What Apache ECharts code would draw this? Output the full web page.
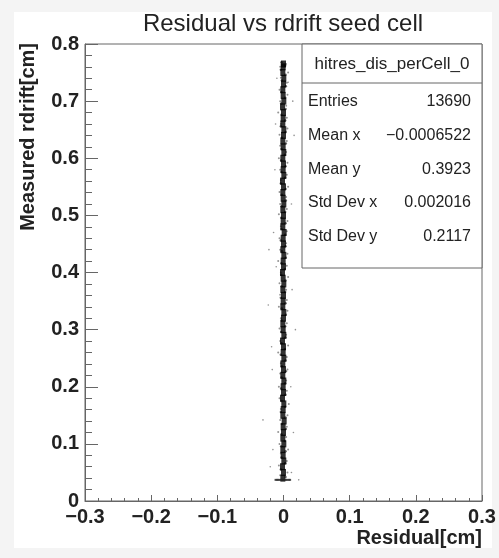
<!DOCTYPE html>
<html>
<head>
<meta charset="utf-8">
<script src="https://cdn.jsdelivr.net/npm/echarts@6/dist/echarts.min.js"></script>
<style>
  html, body { margin: 0; padding: 0; background: #f4f4f4; }
  #main { width: 499px; height: 558px; }
</style>
</head>
<body>
<div id="main"></div>
<script>
// dense core of the band (residual, rdrift)
const corePoints = [
  [-0.001,0.04],[0,0.05],[-0.0015,0.06],[0.0005,0.07],[-0.0005,0.08],[-0.001,0.09],[0.0005,0.10],[-0.001,0.11],
  [0,0.12],[-0.0005,0.13],[0.001,0.14],[-0.001,0.15],[-0.0005,0.16],[0.0005,0.17],[-0.0015,0.18],[0,0.19],
  [-0.0005,0.20],[0.0005,0.21],[-0.001,0.22],[0,0.23],[-0.001,0.24],[0.0005,0.25],[-0.0005,0.26],[0,0.27],
  [-0.0015,0.28],[0.0005,0.29],[-0.0005,0.30],[-0.001,0.31],[0,0.32],[0.0005,0.33],[-0.001,0.34],[-0.0005,0.35],
  [0,0.36],[-0.001,0.37],[0.0005,0.38],[-0.0005,0.39],[-0.0015,0.40],[0,0.41],[-0.0005,0.42],[0.0005,0.43],
  [-0.001,0.44],[0,0.45],[-0.0005,0.46],[0.001,0.47],[-0.001,0.48],[-0.0005,0.49],[0,0.50],[-0.001,0.51],
  [0.0005,0.52],[-0.0005,0.53],[-0.001,0.54],[0,0.55],[-0.0015,0.56],[0.0005,0.57],[-0.0005,0.58],[0,0.59],
  [-0.001,0.60],[0.0005,0.61],[-0.0005,0.62],[-0.001,0.63],[0,0.64],[0.0005,0.65],[-0.001,0.66],[-0.0005,0.67],
  [0,0.68],[-0.0015,0.69],[0.0005,0.70],[-0.0005,0.71],[-0.001,0.72],[0,0.73],[0.0005,0.74],[-0.001,0.75],
  [-0.0005,0.76],[0,0.765]
];
// close fuzz just outside the core
const innerHaloPoints = [
  [0.003,0.042],[-0.004,0.055],[0.0025,0.066],[-0.003,0.076],[0.003,0.087],[-0.0035,0.096],[0.002,0.105],[-0.003,0.117],
  [0.0035,0.126],[-0.0025,0.135],[0.003,0.146],[-0.004,0.156],[0.0025,0.165],[-0.003,0.175],[0.003,0.186],[-0.0035,0.197],
  [0.0025,0.206],[-0.003,0.216],[0.0035,0.227],[-0.0025,0.236],[0.003,0.246],[-0.004,0.256],[0.002,0.266],[-0.003,0.276],
  [0.003,0.286],[-0.0035,0.296],[0.0025,0.306],[-0.003,0.316],[0.0035,0.326],[-0.0025,0.337],[0.003,0.346],[-0.004,0.356],
  [0.0025,0.366],[-0.003,0.376],[0.003,0.386],[-0.0035,0.396],[0.002,0.406],[-0.003,0.416],[0.0035,0.426],[-0.0025,0.437],
  [0.003,0.446],[-0.004,0.456],[0.0025,0.466],[-0.003,0.476],[0.003,0.486],[-0.0035,0.496],[0.0025,0.506],[-0.003,0.516],
  [0.0035,0.526],[-0.0025,0.536],[0.003,0.546],[-0.004,0.556],[0.0025,0.566],[-0.003,0.576],[0.003,0.586],[-0.0035,0.596],
  [0.002,0.606],[-0.003,0.616],[0.0035,0.626],[-0.0025,0.636],[0.003,0.646],[-0.004,0.656],[0.0025,0.666],[-0.003,0.676],
  [0.003,0.686],[-0.0035,0.696],[0.0025,0.706],[-0.003,0.716],[0.0035,0.726],[-0.0025,0.736],[0.003,0.746],[-0.004,0.755],
  [0.0025,0.762],[-0.003,0.768]
];
// outer fuzz around the core
const haloPoints = [
  [-0.005,0.045],[0.006,0.05],[-0.007,0.062],[0.005,0.07],[-0.004,0.083],[0.007,0.09],[-0.006,0.1],[0.004,0.112],
  [-0.008,0.121],[0.005,0.13],[-0.005,0.142],[0.006,0.15],[-0.004,0.161],[0.008,0.17],[-0.006,0.18],[0.005,0.193],
  [-0.007,0.2],[0.004,0.211],[-0.005,0.223],[0.006,0.23],[-0.004,0.241],[0.005,0.252],[-0.008,0.26],[0.007,0.272],
  [-0.005,0.28],[0.004,0.291],[-0.006,0.302],[0.005,0.311],[-0.004,0.32],[0.006,0.333],[-0.007,0.34],[0.005,0.352],
  [-0.005,0.361],[0.004,0.37],[-0.006,0.381],[0.007,0.392],[-0.004,0.4],[0.005,0.412],[-0.008,0.42],[0.006,0.433],
  [-0.005,0.44],[0.004,0.451],[-0.006,0.46],[0.005,0.472],[-0.004,0.481],[0.006,0.49],[-0.007,0.502],[0.005,0.511],
  [-0.005,0.52],[0.004,0.532],[-0.006,0.541],[0.007,0.55],[-0.004,0.562],[0.005,0.571],[-0.005,0.58],[0.006,0.592],
  [-0.007,0.6],[0.004,0.611],[-0.005,0.622],[0.005,0.63],[-0.006,0.641],[0.006,0.652],[-0.004,0.66],[0.005,0.671],
  [-0.008,0.68],[0.004,0.692],[-0.005,0.7],[0.006,0.711],[-0.006,0.72],[0.005,0.732],[-0.004,0.741],[0.007,0.75],
  [-0.005,0.76],[0.004,0.765]
];
// isolated hits further out
const outlierPoints = [
  [-0.02,0.06],[0.012,0.05],[-0.016,0.09],[0.023,0.037],[-0.031,0.142],[0.015,0.12],[0.011,0.2],[-0.017,0.23],
  [-0.018,0.27],[0.018,0.3],[-0.023,0.343],[0.013,0.37],[-0.011,0.41],[-0.022,0.44],[-0.015,0.47],[0.012,0.52],
  [-0.013,0.58],[0.016,0.64],[-0.012,0.66],[0.014,0.7],[0.007,0.733],[-0.01,0.74]
];
// pile-up at the lowest rdrift
const capPoints = [
  [-0.012,0.037],[-0.01,0.037],[-0.008,0.037],[-0.006,0.037],[-0.004,0.037],[-0.002,0.037],
  [0,0.037],[0.002,0.037],[0.004,0.037],[0.006,0.037],[0.008,0.037],[0.010,0.037]
];

const statsTitle = "hitres_dis_perCell_0";
const statsNames = ["Entries", "Mean x", "Mean y", "Std Dev x", "Std Dev y"];
const statsValues = ["13690", "\u22120.0006522", "0.3923", "0.002016", "0.2117"];

const chart = echarts.init(document.getElementById("main"));
const font = "'Liberation Sans', Arial, sans-serif";

const statsGraphics = [];
statsGraphics.push({
  type: "rect", shape: { x: 302, y: 44, width: 180, height: 224 },
  style: { fill: "#fff", stroke: "#666", lineWidth: 1 }, z: 10
});
statsGraphics.push({
  type: "line", shape: { x1: 302, y1: 83, x2: 482, y2: 83 },
  style: { stroke: "#666", lineWidth: 1 }, z: 11
});
statsGraphics.push({
  type: "text", x: 392, y: 64, z: 11,
  style: { text: statsTitle, font: "17px " + font, fill: "#222", align: "center", verticalAlign: "middle" }
});
statsNames.forEach((name, i) => {
  const y = 102 + i * 33.6;
  statsGraphics.push({
    type: "text", x: 308, y: y, z: 11,
    style: { text: name, font: "16px " + font, fill: "#222", align: "left", verticalAlign: "middle" }
  });
  statsGraphics.push({
    type: "text", x: 471, y: y, z: 11,
    style: { text: statsValues[i], font: "16px " + font, fill: "#222", align: "right", verticalAlign: "middle" }
  });
});

const option = {
  backgroundColor: "#f4f4f4",
  animation: false,
  grid: {
    left: 85, right: 17, top: 44, bottom: 57,
    show: true, borderColor: "#666", borderWidth: 1, backgroundColor: "#fff"
  },
  xAxis: {
    type: "value", min: -0.3, max: 0.3, interval: 0.1,
    axisLine: { show: true, onZero: false, lineStyle: { color: "#666", width: 1 } },
    axisTick: { show: true, inside: true, length: 6, lineStyle: { color: "#666" } },
    minorTick: { show: true, splitNumber: 5, length: 3, lineStyle: { color: "#666" } },
    splitLine: { show: false },
    axisLabel: {
      margin: 6, color: "#222", fontSize: 20, fontWeight: "bold", fontFamily: font,
      formatter: v => (Math.abs(v) < 1e-9 ? "0" : v.toFixed(1).replace("-", "\u2212"))
    }
  },
  yAxis: {
    type: "value", min: 0, max: 0.8, interval: 0.1,
    axisLine: { show: true, onZero: false, lineStyle: { color: "#666", width: 1 } },
    axisTick: { show: true, inside: true, length: 13, lineStyle: { color: "#666" } },
    minorTick: { show: true, splitNumber: 5, length: 7, lineStyle: { color: "#666" } },
    splitLine: { show: false },
    axisLabel: {
      margin: 6, color: "#222", fontSize: 20, fontWeight: "bold", fontFamily: font,
      formatter: v => (Math.abs(v) < 1e-9 ? "0" : v.toFixed(1))
    }
  },
  graphic: [
    {
      type: "rect", shape: { x: 14, y: 12, width: 478, height: 536 },
      style: { fill: "#fff" }, z: -100
    },
    {
      type: "text", x: 283, y: 24,
      style: { text: "Residual vs rdrift seed cell", font: "24px " + font, fill: "#222", align: "center", verticalAlign: "middle" }
    },
    {
      type: "text", x: 482, y: 538,
      style: { text: "Residual[cm]", font: "bold 20px " + font, fill: "#222", align: "right", verticalAlign: "middle" }
    },
    {
      type: "text", x: 28, y: 43, rotation: Math.PI / 2,
      style: { text: "Measured rdrift[cm]", font: "bold 20px " + font, fill: "#222", align: "right", verticalAlign: "middle" }
    }
  ].concat(statsGraphics),
  series: [
    {
      type: "scatter", data: outlierPoints, symbolSize: 1.6,
      itemStyle: { color: "#777" }, silent: true
    },
    {
      type: "scatter", data: haloPoints, symbolSize: 2,
      itemStyle: { color: "#666", opacity: 0.7 }, silent: true
    },
    {
      type: "scatter", data: innerHaloPoints, symbolSize: 2.5,
      itemStyle: { color: "#444", opacity: 0.8 }, silent: true
    },
    {
      type: "scatter", data: corePoints, symbol: "rect", symbolSize: [5, 7],
      itemStyle: { color: "#000" }, silent: true
    },
    {
      type: "scatter", data: capPoints, symbol: "rect", symbolSize: [2, 2],
      itemStyle: { color: "#222" }, silent: true
    }
  ]
};
chart.setOption(option);
</script>
</body>
</html>
